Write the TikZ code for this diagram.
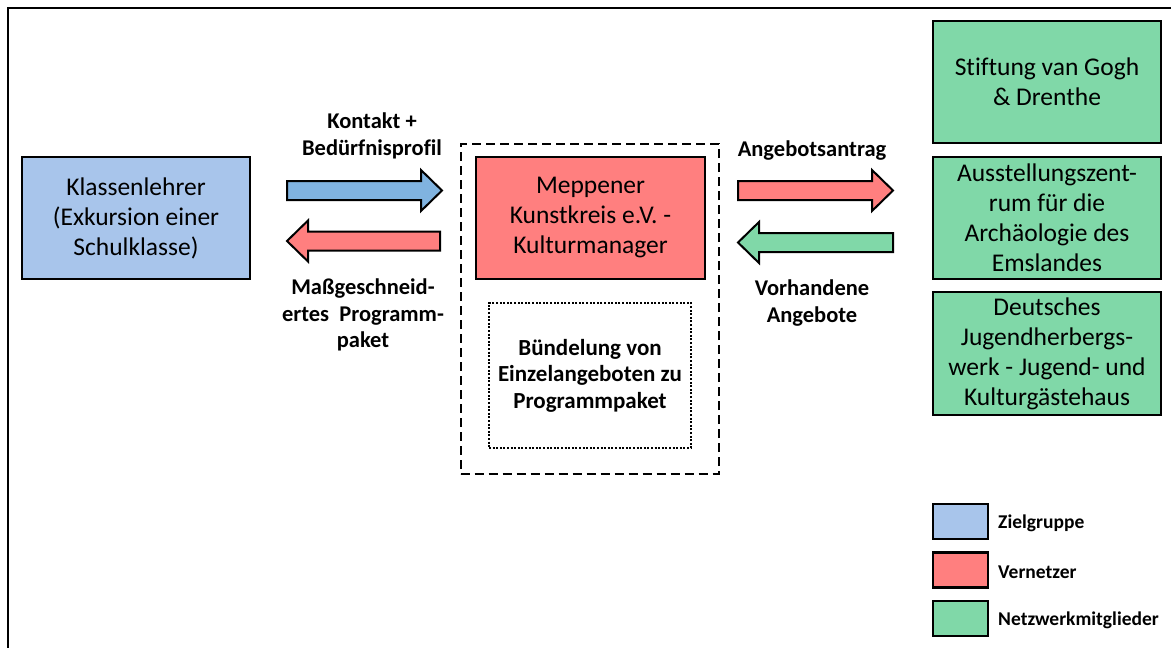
\documentclass[tikz,border=0pt]{standalone}
\usepackage{fontspec}
\setmainfont{Carlito}[Ligatures=NoCommon]
\definecolor{cblue}{HTML}{A8C5EB}
\definecolor{cbluearrow}{HTML}{80B3E0}
\definecolor{cred}{HTML}{FF7F7F}
\definecolor{cgreen}{HTML}{80D8A8}
\tikzset{
  box/.style={draw=black, line width=2.2pt, rectangle, align=center, inner sep=0pt,
     font=\fontsize{25.5}{30}\selectfont},
  lab/.style={align=center, inner sep=0pt, font=\fontsize{22.5}{26.5}\selectfont\bfseries},
  leglab/.style={anchor=west, inner sep=0pt, font=\fontsize{19.5}{22}\selectfont\bfseries},
  blockarrow/.style={draw=black, line width=2pt, line join=miter},
}
% right-pointing block arrow: #1 left x, #2 tip x, #3 centre y, #4 fill
\newcommand{\myarrowR}[4]{%
  \draw[blockarrow, fill=#4] (#1,#3-9.5) -- (#2-21,#3-9.5) -- (#2-21,#3-20.5) -- (#2,#3)
     -- (#2-21,#3+20.5) -- (#2-21,#3+9.5) -- (#1,#3+9.5) -- cycle;}
% left-pointing block arrow: #1 tip x, #2 right x, #3 centre y, #4 fill
\newcommand{\myarrowL}[4]{%
  \draw[blockarrow, fill=#4] (#2,#3-9.5) -- (#1+21,#3-9.5) -- (#1+21,#3-20.5) -- (#1,#3)
     -- (#1+21,#3+20.5) -- (#1+21,#3+9.5) -- (#2,#3+9.5) -- cycle;}
\begin{document}
\begin{tikzpicture}[x=1pt, y=-1pt]
\useasboundingbox (0,0) rectangle (1171,648);
% outer frame (cut off at right and bottom)
\draw[line width=2.6pt] (8,660) -- (8,8) -- (1180,8);

% left box
\node[box, fill=cblue, minimum width=228pt, minimum height=122pt] (klasse) at (136,218)
  {Klassenlehrer\\(Exkursion einer\\Schulklasse)};

% centre group
\node[draw, dash pattern=on 9pt off 5pt, line width=2pt, minimum width=258pt, minimum height=330pt, inner sep=0pt] (group) at (589.5,309) {};
\node[box, fill=cred, minimum width=229pt, minimum height=122pt] (kk) at (590.5,218)
  {Meppener\\Kunstkreis e.V. -\\Kulturmanager};
\node[draw, dash pattern=on 2pt off 1.6pt, line width=2pt, minimum width=202pt, minimum height=145pt, inner sep=0pt,
  align=center, font=\fontsize{23}{26.5}\selectfont\bfseries] (bund) at (590,375.5)
  {Bündelung von\\Einzelangeboten zu\\Programmpaket};

% right boxes
\node[box, fill=cgreen, minimum width=228pt, minimum height=122pt] (vg) at (1047,82)
  {Stiftung van Gogh\\\& Drenthe};
\node[box, fill=cgreen, minimum width=228pt, minimum height=122pt] (az) at (1047,218)
  {Ausstellungszent-\\rum für die\\Archäologie des\\Emslandes};
\node[box, fill=cgreen, minimum width=228pt, minimum height=123pt] (dj) at (1047,353.5)
  {Deutsches\\Jugendherbergs-\\werk - Jugend- und\\Kulturgästehaus};

% block arrows
\myarrowR{287}{442}{190.5}{cbluearrow}
\myarrowL{287}{440}{241}{cred}
\myarrowR{738}{893}{190.5}{cred}
\myarrowL{738}{893}{242.5}{cgreen}

% arrow labels
\node[lab] (l1) at (372,136) {Kontakt +\\Bedürfnisprofil};
\node[lab] (l2) at (363,315) {Maßgeschneid-\\ertes\ \ Programm-\\paket};
\node[lab] (l3) at (812,151) {Angebotsantrag};
\node[lab] (l4) at (812,303) {Vorhandene\\Angebote};

% legend
\node[box, fill=cblue, minimum width=55pt, minimum height=35pt] (lg1) at (960.5,521.5) {};
\node[box, fill=cred, minimum width=55pt, minimum height=35pt] (lg2) at (960.5,570) {};
\node[box, fill=cgreen, minimum width=55pt, minimum height=35pt] (lg3) at (960.5,618.5) {};
\node[leglab] (lt1) at (998,523.5) {Zielgruppe};
\node[leglab] (lt2) at (998,572) {Vernetzer};
\node[leglab] (lt3) at (998,620) {Netzwerkmitglieder};
\end{tikzpicture}
\end{document}
